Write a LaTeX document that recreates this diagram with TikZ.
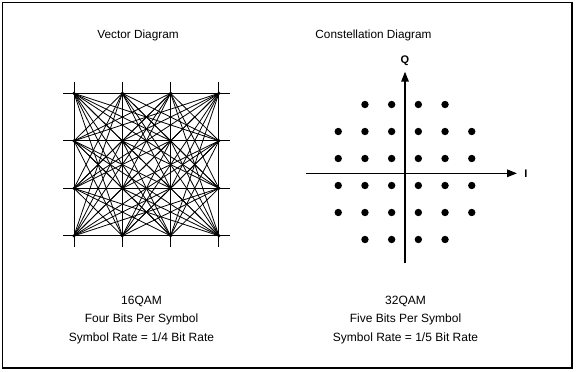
\documentclass[tikz,border=0pt]{standalone}
\usepackage{fontspec}
\setmainfont{Liberation Sans}
\usetikzlibrary{arrows.meta,positioning}

\begin{document}
\begin{tikzpicture}[x=1pt, y=-1pt,
        font=\fontsize{11.8}{14}\selectfont,
        frame/.style={draw=black, line width=1.2pt},
        gridline/.style={draw=black, line width=1pt},
        vec/.style={draw=black, line width=0.8pt},
        axis/.style={-{Triangle[length=10pt,width=7.5pt]}, line width=1.6pt},
        sym/.style={circle, fill=black, inner sep=0pt, minimum size=7.4pt},
        vpt/.style={circle, fill=black, inner sep=0pt, minimum size=3.5pt},
        axlabel/.style={font=\bfseries\fontsize{11}{13}\selectfont},
        caption/.style={align=center, font=\fontsize{12}{18.3}\selectfont}
    ]
        \useasboundingbox (0,0) rectangle (576,372);
        \draw[frame] (2.5,2.5) rectangle (572,368);

        % --- titles ---
        \node (vtitle) at (138,35) {Vector Diagram};
        \node (ctitle) at (373.5,35) {Constellation Diagram};

        % --- 16QAM vector diagram ---
        \foreach \i in {0,...,3}{
            \draw[gridline] (74+48.3*\i,81.7) -- (74+48.3*\i,246.7);
            \draw[gridline] (63,93.3+47.5*\i) -- (230,93.3+47.5*\i);
        }
        \foreach \n in {0,...,15}{
            \pgfmathsetmacro\px{74+48.3*mod(\n,4)}
            \pgfmathsetmacro\py{93.3+47.5*int(\n/4)}
            \node[vpt] (v\n) at (\px,\py) {};
        }
        \foreach \a in {0,...,15}{
            \foreach \b in {0,...,15}{
                \pgfmathtruncatemacro\ok{(\b>\a)&&(mod(\a,4)!=mod(\b,4))&&(int(\a/4)!=int(\b/4))&&!((mod(\a,4)+mod(\b,4)==3)&&(int(\a/4)+int(\b/4)==3))}
                \ifnum\ok=1 \draw[vec] (v\a.center) -- (v\b.center); \fi
            }
        }

        % --- 32QAM constellation ---
        \coordinate (iL) at (306,173.3);
        \coordinate (iR) at (517,173.3);
        \coordinate (qB) at (405,263);
        \coordinate (qT) at (405,71.7);
        \draw[axis] (iL) -- (iR);
        \draw[axis] (qB) -- (qT);
        \node[axlabel] (qlab) at (405,60.5) {Q};
        \node[axlabel] (ilab) at (526,173.3) {I};
        \foreach \k in {0,...,5}{
            \foreach \m in {0,...,5}{
                \pgfmathtruncatemacro\corner{(\k==0||\k==5)&&(\m==0||\m==5)}
                \ifnum\corner=0
                    \node[sym] (s\k\m) at (405+26.7*\k-66.75,172+27*\m-67.5) {};
                \fi
            }
        }

        % --- captions ---
        \node[caption] (vcap) at (141.5,320) {16QAM\\Four Bits Per Symbol\\Symbol Rate = 1/4 Bit Rate};
        \node[caption] (ccap) at (405.5,320) {32QAM\\Five Bits Per Symbol\\Symbol Rate = 1/5 Bit Rate};
    \end{tikzpicture}
\end{document}
